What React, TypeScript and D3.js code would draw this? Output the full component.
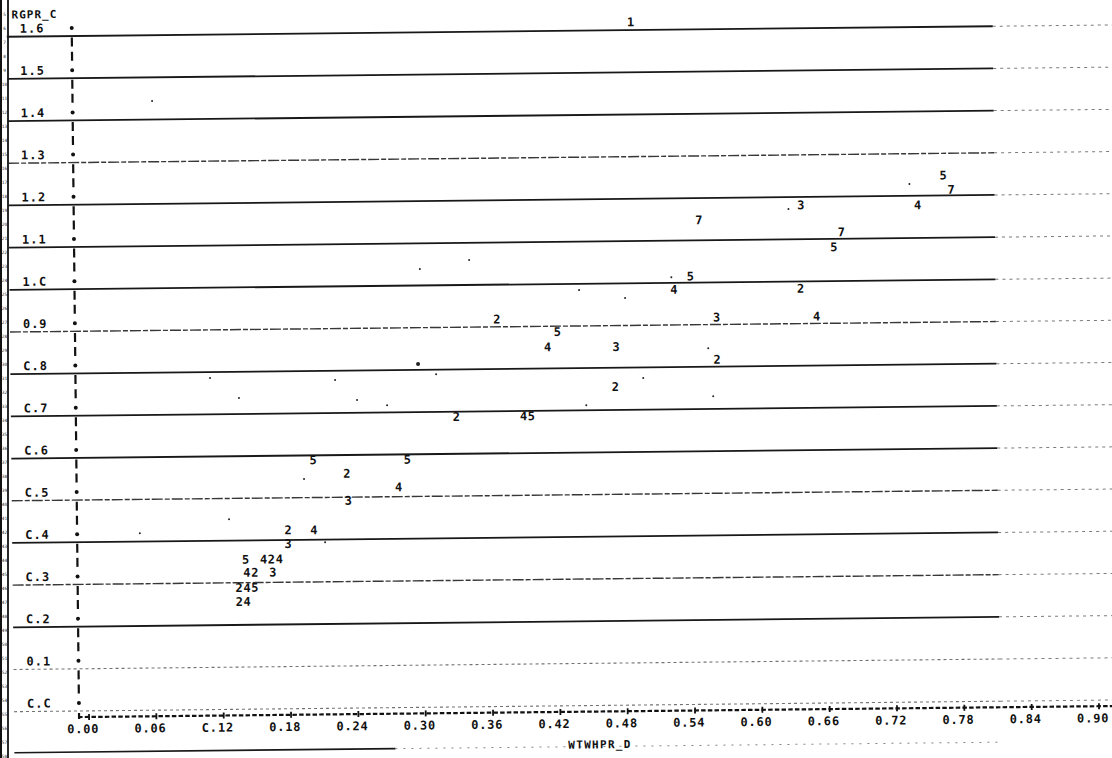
import * as d3 from 'd3';

// axis ticks and the labels as they print on the scan
const yTicks = [1.6, 1.5, 1.4, 1.3, 1.2, 1.1, 1.0, 0.9, 0.8, 0.7, 0.6, 0.5, 0.4, 0.3, 0.2, 0.1, 0.0];
const yTickLabels = ['1.6', '1.5', '1.4', '1.3', '1.2', '1.1', '1.C', '0.9', 'C.8', 'C.7', 'C.6', 'C.5', 'C.4', 'C.3', 'C.2', '0.1', 'C.C'];
const xTicks = [0, 0.06, 0.12, 0.18, 0.24, 0.3, 0.36, 0.42, 0.48, 0.54, 0.6, 0.66, 0.72, 0.78, 0.84, 0.9];
const xTickLabels = ['0.00', '0.06', 'C.12', '0.18', '0.24', '0.30', '0.36', '0.42', '0.48', '0.54', '0.60', '0.66', '0.72', '0.78', '0.84', '0.90'];
const yTitle = 'RGPR_C';
const xTitle = 'WTWHPR_D';

// plotted points, one array per printed symbol: [x, y]
const series1 = [[0.489, 1.6]];
const series2 = [
  [0.638, 0.964], [0.367, 0.899], [0.563, 0.798], [0.472, 0.736], [0.33, 0.669],
  [0.232, 0.537], [0.179, 0.405], [0.164, 0.336], [0.149, 0.305], [0.135, 0.269], [0.135, 0.236],
];
const series3 = [[0.639, 1.162], [0.563, 0.898], [0.473, 0.831], [0.233, 0.473], [0.179, 0.372], [0.165, 0.305]];
const series4 = [
  [0.743, 1.159], [0.525, 0.965], [0.652, 0.898], [0.412, 0.832], [0.39, 0.669], [0.278, 0.504],
  [0.202, 0.404], [0.157, 0.336], [0.171, 0.336], [0.142, 0.305], [0.142, 0.269], [0.142, 0.236],
];
const series5 = [
  [0.766, 1.229], [0.668, 1.062], [0.54, 0.996], [0.421, 0.868], [0.397, 0.669],
  [0.202, 0.57], [0.286, 0.569], [0.141, 0.336], [0.149, 0.269],
];
const series7 = [[0.773, 1.195], [0.548, 1.129], [0.675, 1.097]];

// stray printer dots on the page
const specks = [
  [0.2965, 0.795], [0.047, 0.401], [0.062, 1.425], [0.628, 1.153], [0.523, 0.994], [0.736, 1.209],
  [0.299, 1.02], [0.343, 1.04], [0.4407, 0.966], [0.4816, 0.946], [0.5552, 0.825], [0.497, 0.756],
  [0.5592, 0.711], [0.3125, 0.77], [0.446, 0.693], [0.111, 0.767], [0.1366, 0.719], [0.2224, 0.759],
  [0.2418, 0.711], [0.2685, 0.698], [0.1938, 0.525], [0.1266, 0.432], [0.212, 0.375],
];

const ruleStyle = ['s', 's', 's', 'b', 's', 's', 's', 'b', 's', 's', 's', 'b', 's', 'b', 's', 'd', 'd'];

const W = 1112;
const H = 758;
const FONT = "'DejaVu Sans Mono', monospace";
const INK = '#111';

export default function App() {
  const x = d3.scaleLinear().domain([0, 0.9]).range([89, 1099]);
  const y = d3.scaleLinear().domain([0, 1.6]).range([703, 28]);
  const axisX = x(0) - 10;
  const rowStep = y(0) - y(1 / 30);
  const rows = d3.range(0, 49).map(k => k / 30);

  const groups = [
    { sym: '1', pts: series1 },
    { sym: '2', pts: series2 },
    { sym: '3', pts: series3 },
    { sym: '4', pts: series4 },
    { sym: '5', pts: series5 },
    { sym: '7', pts: series7 },
  ];

  const rule = (kind: string) =>
    kind === 's'
      ? { stroke: '#181818', strokeWidth: 1.8, dash: undefined, op: 1 }
      : kind === 'b'
      ? { stroke: '#222', strokeWidth: 1.4, dash: '11 2 5 2', op: 0.9 }
      : { stroke: '#444', strokeWidth: 1.1, dash: '3 3', op: 0.75 };

  const rulerRows = d3.range(0, 54);

  return (
    <svg width={W} height={H} style={{ position: 'fixed', left: 0, top: 0, background: '#fff' }}>
      <rect width={W} height={H} fill="#fff" />

      {/* page margin strip */}
      <line x1={1} x2={1} y1={0} y2={H} stroke={INK} strokeWidth={2} />
      <line x1={8} x2={8} y1={0} y2={H} stroke={INK} strokeWidth={1.8} />
      {rulerRows.map(k => (
        <text key={k} x={4.5} y={16 + k * 14} fontSize={4.5} fontFamily={FONT} textAnchor="middle" fill="#333">
          {k + 5}
        </text>
      ))}

      <g transform={`rotate(-0.61 ${axisX} 711)`}>
        {/* ruled lines */}
        {yTicks.map((v, i) => {
          const st = rule(ruleStyle[i]);
          return (
            <g key={v}>
              <line x1={14} x2={1000} y1={y(v) + 8} y2={y(v) + 8} stroke={st.stroke}
                strokeWidth={st.strokeWidth} strokeDasharray={st.dash} opacity={st.op} />
              <line x1={1000} x2={1130} y1={y(v) + 8} y2={y(v) + 8} stroke="#444"
                strokeWidth={1} strokeDasharray="3 4" opacity={0.7} />
            </g>
          );
        })}

        {/* bottom ruled line */}
        <line x1={14} x2={395} y1={752} y2={752} stroke="#181818" strokeWidth={1.6} />
        <line x1={395} x2={1000} y1={752} y2={752} stroke="#555" strokeWidth={1} strokeDasharray="2 6" opacity={0.7} />

        {/* y labels */}
        <text x={19} y={y(1.6) - rowStep} dy="0.35em" fontFamily={FONT} fontWeight="bold" fontSize={11}
          letterSpacing={1} fill={INK}>{yTitle}</text>
        {yTicks.map((v, i) => (
          <text key={v} x={27} y={y(v)} dy="0.35em" fontFamily={FONT} fontWeight="bold" fontSize={12}
            letterSpacing={1} fill={INK}>{yTickLabels[i]}</text>
        ))}

        {/* vertical axis: dots at ticks, bars between */}
        {rows.map((v, k) =>
          k % 3 === 0 ? (
            <circle key={k} cx={axisX} cy={y(v)} r={2} fill={INK} />
          ) : (
            <line key={k} x1={axisX} x2={axisX} y1={y(v) - 4.5} y2={y(v) + 4.5} stroke={INK} strokeWidth={2.2} />
          )
        )}
        <line x1={axisX} x2={axisX} y1={y(0) + 10} y2={y(0) + 16} stroke={INK} strokeWidth={2.2} />

        {/* horizontal axis */}
        <line x1={axisX - 1} x2={1125} y1={y(0) + rowStep} y2={y(0) + rowStep} stroke={INK} strokeWidth={2.2}
          strokeDasharray="4.5 2.2" />
        {xTicks.map(v => (
          <line key={v} x1={x(v)} x2={x(v)} y1={y(0) + rowStep - 3} y2={y(0) + rowStep + 3} stroke={INK} strokeWidth={1.8} />
        ))}
        {xTicks.map((v, i) => (
          <text key={v} x={x(v) - 6} y={729} dy="0.35em" textAnchor="middle" fontFamily={FONT} fontWeight="bold"
            fontSize={12} letterSpacing={0.8} fill={INK}>{xTickLabels[i]}</text>
        ))}
        <text x={x(0.455)} y={750} dy="0.35em" textAnchor="middle" fontFamily={FONT} fontWeight="bold" fontSize={11}
          letterSpacing={1.3} fill={INK}>{xTitle}</text>

        {/* specks */}
        {specks.map((d, i) => (
          <circle key={i} cx={x(d[0])} cy={y(d[1])} r={i === 0 ? 2 : 1} fill="#222" />
        ))}

        {/* plotted symbols */}
        {groups.map(g =>
          g.pts.map((d, i) => (
            <text key={g.sym + i} x={x(d[0])} y={y(d[1])} dy="0.35em" textAnchor="middle" fontFamily={FONT}
              fontWeight="bold" fontSize={12} fill={INK}>{g.sym}</text>
          ))
        )}
      </g>
    </svg>
  );
}
